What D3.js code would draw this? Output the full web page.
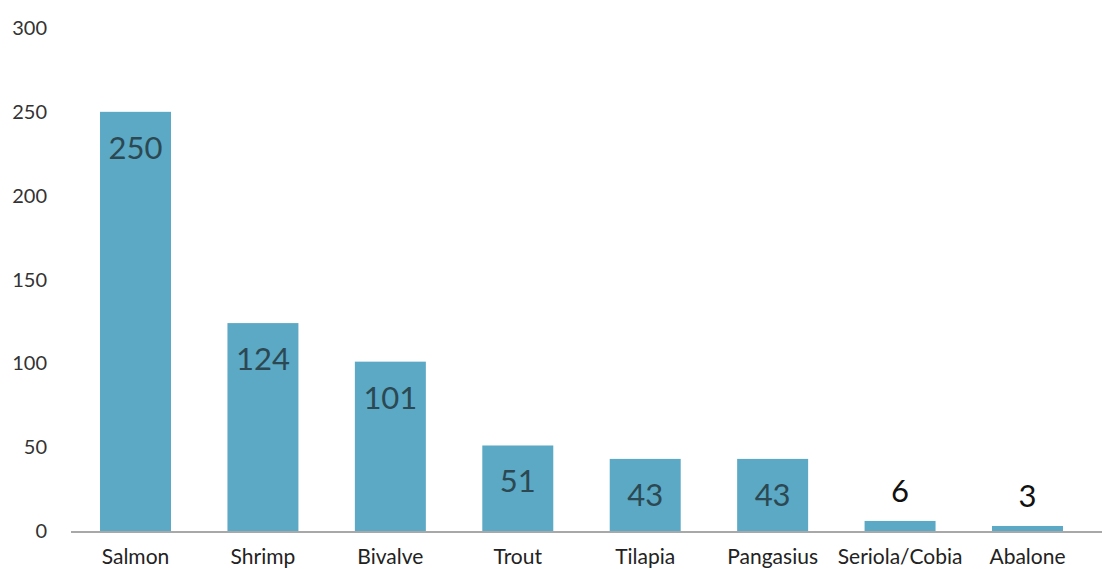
<!DOCTYPE html>
<html><head><meta charset="utf-8">
<script src="https://cdn.jsdelivr.net/npm/d3@7"></script>
<style>html,body{margin:0;padding:0;background:#fff;}svg{display:block;}</style>
</head><body>
<svg id="c" width="1102" height="569"></svg>
<script>
const categories = ["Salmon","Shrimp","Bivalve","Trout","Tilapia","Pangasius","Seriola/Cobia","Abalone"];
const values = [250,124,101,51,43,43,6,3];
const yTicks = [0,50,100,150,200,250,300];

const svg = d3.select("#c");
const font = "Lato, 'Open Sans', sans-serif";
const y = d3.scaleLinear().domain([0,300]).range([531,28]);
const x = d3.scaleBand().domain(categories).range([71.8,1091.2]).paddingInner(0.443).paddingOuter(0.2215);

// y tick labels
svg.append("g").selectAll("text").data(yTicks).join("text")
  .attr("x",47).attr("y",d=>y(d)).attr("dy","0.35em")
  .attr("text-anchor","end").attr("font-family",font).attr("font-size",20).attr("fill","#333")
  .text(d=>d);

// bars
svg.append("g").selectAll("rect").data(values).join("rect")
  .attr("x",(d,i)=>x(categories[i])).attr("width",x.bandwidth())
  .attr("y",d=>y(d)).attr("height",d=>y(0)-y(d))
  .attr("fill","#5ba9c5");

// axis line
svg.append("line").attr("x1",71).attr("x2",1102).attr("y1",y(0)+1).attr("y2",y(0)+1)
  .attr("stroke","#a8a8a8").attr("stroke-width",2);

// value labels
svg.append("g").selectAll("text").data(values).join("text")
  .attr("x",(d,i)=>x(categories[i])+x.bandwidth()/2)
  .attr("y",d=> d>20 ? y(d)+36 : y(d)-30)
  .attr("dy","0.35em").attr("text-anchor","middle")
  .attr("font-family",font).attr("font-size",31)
  .attr("fill",d=> d>20 ? "#2c4852" : "#111")
  .text(d=>d);

// category labels
svg.append("g").selectAll("text").data(categories).join("text")
  .attr("x",d=>x(d)+x.bandwidth()/2).attr("y",564)
  .attr("text-anchor","middle").attr("font-family",font).attr("font-size",21).attr("fill","#222")
  .text(d=>d);
</script>
</body></html>
